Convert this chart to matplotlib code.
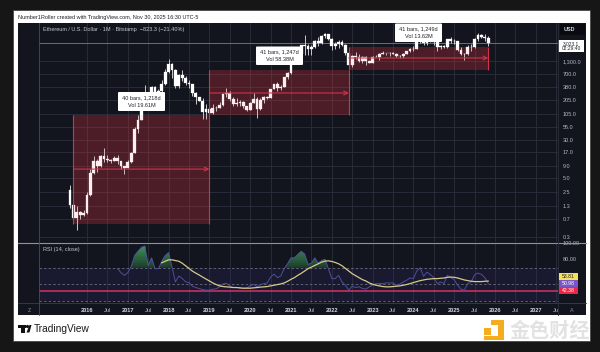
import numpy as np
from matplotlib import pyplot as plt
from matplotlib.patches import Rectangle, FancyBboxPatch, Polygon, Circle

plt.rcParams['font.family'] = ['Liberation Sans', 'Noto Sans CJK SC', 'DejaVu Sans']

# monthly candles, Aug 2015 .. Nov 2025, month 0 = Jan 2016
months = list(range(-5, 119))
opens = [2.8, 1.35, 0.74, 1.0, 0.87,
         0.93, 2.2, 6.3, 11.4, 9.0, 14, 12, 11.5, 11.3, 13, 11, 8.6,
         8, 10.7, 16, 50, 80, 230, 280, 200, 385, 300, 305, 445,
         755, 1118, 855, 395, 670, 578, 453, 433, 283, 233, 198, 113,
         133, 107, 136, 141, 162, 268, 290, 218, 172, 180, 183, 151,
         129, 180, 218, 133, 207, 231, 226, 345, 434, 360, 386, 616,
         737, 1312, 1419, 1840, 2770, 2700, 2275, 2530, 3430, 3000, 4320, 4630,
         3680, 2680, 2920, 3280, 2730, 1940, 1070, 1680, 1550, 1330, 1570, 1295,
         1195, 1585, 1605, 1820, 1870, 1875, 1930, 1855, 1645, 1670, 1815, 2050,
         2280, 2280, 3340, 3650, 3015, 3760, 3430, 3230, 2510, 2600, 2515, 3700,
         3330, 3300, 2235, 1820, 1795, 2530, 2490, 3700, 4390, 4145, 3850]
highs = [3.6, 1.5, 1.3, 1.05, 1.1,
         2.5, 7.5, 14, 12.5, 15, 21, 15, 12, 14, 15, 11, 9,
         11.5, 17, 55, 98, 230, 420, 300, 395, 395, 350, 520, 880,
         1420, 1160, 880, 710, 835, 625, 515, 440, 300, 235, 225, 165,
         160, 165, 150, 185, 285, 360, 315, 240, 225, 200, 190, 155,
         185, 290, 240, 225, 245, 250, 350, 445, 490, 415, 620, 755,
         1480, 2040, 1945, 2790, 4380, 2890, 2780, 3470, 4020, 4480, 4868, 4790,
         3880, 3280, 3490, 3580, 2960, 1970, 1770, 2030, 1790, 1650, 1680, 1350,
         1680, 1740, 1860, 2140, 1930, 1950, 2030, 1880, 1720, 1860, 2140, 2400,
         2700, 3520, 4090, 3730, 3980, 3890, 3560, 3490, 2770, 2770, 3750, 4100,
         3750, 3440, 2520, 1890, 2790, 2880, 3950, 4950, 4770, 4750, 4290]
lows = [1.2, 0.6, 0.42, 0.7, 0.8,
        0.9, 2.1, 6, 6.7, 8.5, 10.5, 10.5, 10, 11, 9.5, 7.5, 6,
        8, 10.3, 16, 42, 78, 220, 130, 195, 190, 280, 285, 420,
        745, 575, 365, 360, 505, 415, 355, 250, 165, 190, 83, 82,
        100, 105, 120, 140, 155, 235, 190, 155, 155, 150, 140, 120,
        125, 180, 85, 125, 175, 215, 225, 340, 310, 335, 375, 540,
        715, 1280, 1450, 1700, 1730, 1700, 1720, 2440, 2650, 2960, 3900, 3500,
        2160, 2300, 2440, 2710, 1700, 880, 1000, 1420, 1220, 1190, 1080, 1160,
        1190, 1550, 1370, 1800, 1750, 1625, 1850, 1550, 1530, 1525, 1790, 2040,
        2100, 2270, 3050, 2850, 2820, 3240, 2830, 2100, 2310, 2390, 2360, 3100,
        2910, 2120, 1760, 1380, 1750, 2130, 2370, 3350, 3820, 3440, 2620]
closes = [1.35, 0.74, 1.0, 0.87, 0.93,
          2.2, 6.3, 11.4, 9.0, 14, 12, 11.5, 11.3, 13, 11, 8.6, 8,
          10.7, 16, 50, 80, 230, 280, 200, 385, 300, 305, 445, 755,
          1118, 855, 395, 670, 578, 453, 433, 283, 233, 198, 113, 133,
          107, 136, 141, 162, 268, 290, 218, 172, 180, 183, 151, 129,
          180, 218, 133, 207, 231, 226, 345, 434, 360, 386, 616, 737,
          1312, 1419, 1840, 2770, 2700, 2275, 2530, 3430, 3000, 4320, 4630, 3680,
          2680, 2920, 3280, 2730, 1940, 1070, 1680, 1550, 1330, 1570, 1295, 1195,
          1585, 1605, 1820, 1870, 1875, 1930, 1855, 1645, 1670, 1815, 2050, 2280,
          2280, 3340, 3650, 3015, 3760, 3430, 3230, 2510, 2600, 2515, 3700, 3330,
          3300, 2235, 1820, 1795, 2530, 2490, 3700, 4390, 4145, 3850, 3023.1]

price_ticks = [1300, 700, 380, 205, 105, 55, 30, 17, 9, 5, 2.5, 1.3, 0.7, 0.3]
last_price = 3023.1

# measured boxes: start month, end month, bottom, top, arrow level
box_starts = [-4, 36, 77]
box_ends = [36, 77, 118]
box_bottoms = [0.56, 99.5, 847]
box_tops = [99.5, 847, 2588]
box_mids = [7.6, 284, 1500]
box_labels = ['40 bars, 1,218d\nVol 19.61M', '41 bars, 1,247d\nVol 58.38M', '41 bars, 1,249d\nVol 13.62M']

# rsi, Oct 2016 .. Nov 2025
rsi_months = list(range(9, 119))
rsi = [68.8, 64, 60.8, 64, 71.5, 84.7, 89.9, 94.7, 96.3, 72.8, 82, 68.8, 68.8, 77.9, 84.7, 88.3,
       70.7, 52.8, 60, 57, 53, 52, 47.6, 46, 44.8, 43.6, 42.8, 42.9, 44, 44.4, 47, 50.4, 51.2,
       48, 46, 46, 45.2, 44.9, 45.6, 48, 50, 46.8, 49.6, 50.8, 51.6, 58.7, 62.3, 58, 60, 68.8,
       74.8, 82, 82, 86, 89.9, 86.7, 74, 75.5, 82, 75.5, 78.7, 80.3, 68.8, 56.8, 56.8, 60.8,
       52.8, 48.8, 42.8, 47.6, 46, 46.9, 44.9, 44, 46.8, 48.8, 50.8, 50.8, 50.8, 51.6, 51.6,
       51.6, 48.8, 50, 52.8, 54.8, 57.6, 56.8, 66, 70, 59.6, 64.7, 61.6, 58, 50.8, 52.8, 50.8,
       60.8, 58, 55.6, 48.8, 44, 42.8, 50.8, 52.8, 61.6, 63.5, 62, 58, 50.98]
# rsi moving average, Nov 2017 .. Nov 2025
ma_months = list(range(22, 119))
rsi_ma = [76, 77.9, 79.6, 79.6, 78.7, 77.9, 75.5, 72.4, 69.2, 65.9, 63.5, 61.2, 58.7, 56.3, 54,
          51.6, 49.6, 48, 47.2, 46.8, 46.5, 46, 46, 45.6, 45.2, 45.2, 45.2, 45.6, 46, 46.5, 46.8,
          47.2, 48, 48.8, 49.6, 50.4, 51.6, 53.6, 56, 58, 60.8, 63.2, 66, 68.8, 70.8, 72.8, 74.8,
          76.8, 78, 78.4, 77.6, 76.4, 74.8, 72.4, 69.2, 66, 62.8, 60.4, 58, 55.6, 54, 51.6, 50,
          48.8, 48, 47.2, 46.8, 46.8, 47.2, 47.6, 48, 48.8, 49.6, 50.8, 52, 53.2, 54.4, 55.2, 56,
          56.4, 56.8, 56.8, 57.2, 57.6, 58.4, 58.7, 58.4, 57.6, 56.4, 55.2, 54.4, 53.6, 53.2,
          53.2, 53.2, 53.6, 53.81]
rsi_level = 42.38

time_months = list(range(0, 139, 6))
time_labels = ['2016', 'Jul', '2017', 'Jul', '2018', 'Jul', '2019', 'Jul', '2020', 'Jul', '2021', 'Jul',
               '2022', 'Jul', '2023', 'Jul', '2024', 'Jul', '2025', 'Jul', '2026', 'Jul', '2027', 'Jul']

BG = '#12151e'
GRID = '#2c303c'
TXT = '#b4b7bf'
RED = '#d0334a'


def px_axes(x0, y0, x1, y1):
    return fig.add_axes([x0 / 600, 1 - y1 / 352, (x1 - x0) / 600, (y1 - y0) / 352])


def px_to_price(y):
    return 1300 * 10 ** ((61 - y) / 48.4)


def px_to_month(x):
    return (x - 87) / 3.4


def px_to_rsi(y):
    return 50 + (284 - y) / 0.835


fig = plt.figure(figsize=(6, 3.52), dpi=100, facecolor='#161616')

# page: white card and dark chart area
page = px_axes(0, 0, 600, 352)
page.set_xlim(0, 600)
page.set_ylim(352, 0)
page.axis('off')
page.add_patch(Rectangle((13, 10), 577, 331, fc='white', ec='#3a3a3a', lw=0.5))
page.add_patch(Rectangle((18, 23), 568, 292, fc=BG, ec='none'))
page.text(18, 17, 'Number1Roller created with TradingView.com, Nov 30, 2025 16:30 UTC-5',
          fontsize=3.95, color='#20222a', va='center')
page.text(33.5, 328.5, 'TradingView', fontsize=7.3, color='#1a1a1a', va='center')
# tradingview mark
page.add_patch(Rectangle((18, 325), 7.5, 2.6, fc='#111111', ec='none'))
page.add_patch(Rectangle((21, 325), 3.5, 7.5, fc='#111111', ec='none'))
page.add_patch(Circle((27.5, 326.5), 1.6, fc='#111111', ec='none'))
page.add_patch(Polygon([(26.5, 332.5), (29.5, 325), (31.5, 325), (29.5, 332.5)], fc='#111111', ec='none'))
# watermark
wm = '#f5ac1e'
page.add_patch(Polygon([(491, 320), (504, 320), (504, 340), (484, 340), (484, 336), (498, 336),
                        (498, 325), (491, 325)], fc=wm, ec='none'))
page.add_patch(Rectangle((484, 328), 7, 7, fc=wm, ec='none'))
page.text(550, 331, '金色财经', fontsize=14.5, color='#e2e2e2', ha='center', va='center', fontweight='bold')

# main price pane
ax = px_axes(39, 23, 558, 242)
ax.set_facecolor(BG)
ax.set_yscale('log')
ax.set_xlim(px_to_month(39), px_to_month(558))
ax.set_ylim(px_to_price(242), px_to_price(23))
ax.set_xticks(time_months)
ax.set_yticks(price_ticks)
ax.set_yticklabels(['1,300.0', '700.0', '380.0', '205.0', '105.0', '55.0', '30.0', '17.0', '9.0', '5.0',
                    '2.5', '1.3', '0.7', '0.3'])
ax.minorticks_off()
ax.tick_params(axis='x', length=0, labelbottom=False)
ax.tick_params(axis='y', length=0, labelleft=False, labelright=True, labelsize=4.0,
               labelcolor=TXT, pad=3.5)
ax.grid(True, color=GRID, lw=0.6)
ax.set_axisbelow(True)
for s in ax.spines.values():
    s.set_visible(False)
ax.axhline(last_price, color='#6a6e78', lw=0.7, zorder=1)

# box fill sits under the candles, a thin tint over them keeps them pinkish
for i in range(3):
    ax.add_patch(Rectangle((box_starts[i], box_bottoms[i]), box_ends[i] - box_starts[i],
                           box_tops[i] - box_bottoms[i], fc='#f23645', alpha=0.2, ec='none', zorder=1.5))

ax.vlines(months, lows, highs, color='#c9c9cf', lw=0.7, zorder=2)
o = np.array(opens)
c = np.array(closes)
ax.bar(months, np.abs(c - o), bottom=np.minimum(o, c), width=0.8, color='white', ec='white', lw=0.2, zorder=3)

for i in range(3):
    ax.add_patch(Rectangle((box_starts[i], box_bottoms[i]), box_ends[i] - box_starts[i],
                           box_tops[i] - box_bottoms[i], fc='#f23645', alpha=0.08, ec='none', zorder=4))
    ax.vlines([box_starts[i], box_ends[i]], box_bottoms[i], box_tops[i], color=RED, lw=0.8, zorder=5)
    ax.annotate('', xy=(box_ends[i], box_mids[i]), xytext=(box_starts[i], box_mids[i]),
                arrowprops=dict(arrowstyle='->', color=RED, lw=0.8, mutation_scale=7,
                                shrinkA=0, shrinkB=0), zorder=5)

ax.text(px_to_month(43), px_to_price(29), 'Ethereum / U.S. Dollar · 1M · Bitstamp  −823.3 (−21.40%)',
        fontsize=3.95, color='#c4c6cc', va='center')

# rsi pane
ax2 = px_axes(39, 243, 558, 303)
ax2.set_facecolor(BG)
ax2.set_xlim(px_to_month(39), px_to_month(558))
ax2.set_ylim(px_to_rsi(303), px_to_rsi(243))
ax2.set_xticks(time_months)
ax2.set_yticks([100, 80])
ax2.set_yticklabels(['100.00', '80.00'])
ax2.tick_params(axis='x', length=0, labelbottom=False)
ax2.tick_params(axis='y', length=0, labelleft=False, labelright=True, labelsize=4.0,
                labelcolor=TXT, pad=3.5)
ax2.grid(True, axis='x', color=GRID, lw=0.6)
ax2.set_axisbelow(True)
for s in ax2.spines.values():
    s.set_visible(False)
ax2.axhspan(30, 70, color='#3a2d78', alpha=0.2, lw=0, zorder=1)
for level in [70, 50, 30]:
    ax2.axhline(level, color='#6a6d7c', lw=0.6, ls=(0, (3, 2.5)), zorder=2)
ax2.axhline(rsi_level, color='#c8305f', lw=1.2, zorder=3)

r = np.array(rsi)
rm = np.array(rsi_months)
# overbought gradient, each band painted over the one below so no seams show
for lo in range(70, 98, 3):
    g = (lo - 70) / 27
    ax2.fill_between(rm, lo, r, where=r > lo, interpolate=True, lw=0, zorder=3,
                     color=(0.12 + 0.13 * g, 0.25 + 0.35 * g, 0.18 + 0.17 * g))
ax2.plot(rsi_months, rsi, color='#4f4f9c', lw=0.7, zorder=4)
ax2.plot(ma_months, rsi_ma, color='#d6c98a', lw=0.9, zorder=5)
ax2.text(px_to_month(43), px_to_rsi(249), 'RSI (14, close)', fontsize=3.95, color='#c4c6cc', va='center')

# time axis strip
ax3 = px_axes(39, 303, 558, 315)
ax3.set_xlim(px_to_month(39), px_to_month(558))
ax3.set_ylim(0, 1)
ax3.axis('off')
for m, lab in zip(time_months, time_labels):
    ax3.text(m, 0.38, lab, fontsize=4.1, color=TXT if lab == 'Jul' else '#d4d6dc', ha='center', va='center',
             fontweight='normal' if lab == 'Jul' else 'bold', clip_on=True)

# overlay for separators, tags and callouts
top = px_axes(0, 0, 600, 352)
top.set_xlim(0, 600)
top.set_ylim(352, 0)
top.axis('off')
top.patch.set_alpha(0)
top.plot([18, 586], [242.5, 242.5], color='#8f939c', lw=0.8)
top.plot([18, 586], [303, 303], color='#3a3d48', lw=0.6)
top.plot([39, 39], [23, 315], color='#4a4d58', lw=0.6)
top.plot([558, 558], [23, 315], color='#2c2f3a', lw=0.6)
top.text(29, 310, 'Z', fontsize=3.9, color='#8b8e97', ha='center', va='center')
top.text(572, 310, 'A', fontsize=3.9, color='#8b8e97', ha='center', va='center')
top.add_patch(Rectangle((560, 24), 25, 11, fc='#090b10', ec='none'))
top.text(569, 29.5, 'USD', fontsize=3.9, color='#d4d6dc', ha='center', va='center', fontweight='bold')
top.add_patch(Rectangle((558, 40), 26, 12, fc='white', ec='none'))
top.text(571, 43.3, '3,023.1', fontsize=3.5, color='#20222a', ha='center', va='center')
top.text(571, 48.7, '02:29:40', fontsize=3.5, color='#20222a', ha='center', va='center')

tag_ys = [276.5, 283.5, 290.5]
tag_cols = ['#f7e05a', '#7a55c8', '#e8284a']
tag_txt = ['53.81', '50.98', '42.38']
tag_fg = ['#20222a', 'white', 'white']
for y, col, t, fg in zip(tag_ys, tag_cols, tag_txt, tag_fg):
    top.add_patch(Rectangle((558.5, y - 3.3), 19, 6.6, fc=col, ec='none'))
    top.text(568, y, t, fontsize=3.7, color=fg, ha='center', va='center')

callouts = [(118, 92, 47, 19), (256, 46.5, 47, 18.5), (395, 23.5, 47, 18.5)]
for (x, y, w, h), lab in zip(callouts, box_labels):
    top.add_patch(FancyBboxPatch((x + 1, y + 1), w - 2, h - 2, boxstyle='round,pad=1', fc='white', ec='none'))
    top.text(x + w / 2, y + h / 2, lab, fontsize=4.0, color='#20222a', ha='center', va='center', linespacing=1.65)

plt.savefig('out.png', dpi=100, facecolor=fig.get_facecolor())
